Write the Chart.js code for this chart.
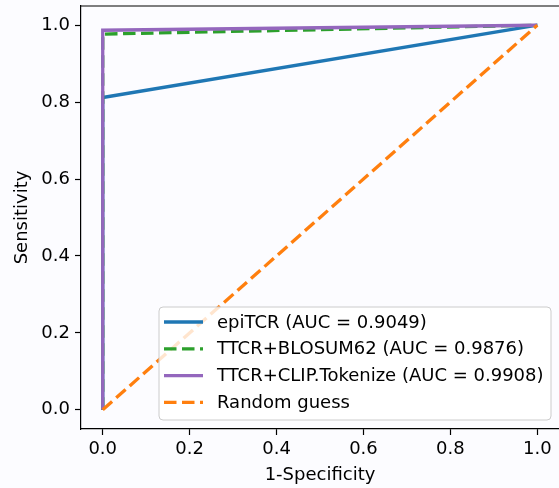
<!DOCTYPE html>
<html>
<head>
<meta charset="utf-8">
<script src="https://cdn.jsdelivr.net/npm/chart.js@4/dist/chart.umd.min.js"></script>
<style>
html,body{margin:0;padding:0;background:#fcfcff;}
#wrap{width:559px;height:488px;}
</style>
</head>
<body>
<div id="wrap"><canvas id="c" width="559" height="488"></canvas></div>
<script>
// ---- data ----
const seriesLabels = ["epiTCR (AUC = 0.9049)", "TTCR+BLOSUM62 (AUC = 0.9876)", "TTCR+CLIP.Tokenize (AUC = 0.9908)", "Random guess"];
const epiFpr = [0, 0, 1];
const epiTpr = [0, 0.812, 1];
const blosumFpr = [0, 0, 1];
const blosumTpr = [0, 0.977, 1];
const clipFpr = [0, 0, 1];
const clipTpr = [0, 0.987, 1];
const randFpr = [0, 1];
const randTpr = [0, 1];
const tickValues = [0, 0.2, 0.4, 0.6, 0.8, 1.0];

const FONT = "'DejaVu Sans', sans-serif";
const FS = 18;
const pts = (xs, ys) => xs.map((x, i) => ({x: x, y: ys[i]}));

const colors = ['#1f77b4', '#2ca02c', '#9467bd', '#ff7f0e'];
const dashes = [[], [12.5, 5.5], [], [12.5, 5.5]];

const datasets = [
  {label: seriesLabels[0], data: pts(epiFpr, epiTpr), order: 4},
  {label: seriesLabels[1], data: pts(blosumFpr, blosumTpr), order: 3},
  {label: seriesLabels[2], data: pts(clipFpr, clipTpr), order: 2},
  {label: seriesLabels[3], data: pts(randFpr, randTpr), order: 1}
].map((d, i) => Object.assign(d, {
  showLine: true, borderColor: colors[i], backgroundColor: colors[i],
  borderWidth: 3.3, borderDash: dashes[i], pointRadius: 0, pointHoverRadius: 0,
  tension: 0, borderCapStyle: 'butt'
}));

const bgPlugin = {
  id: 'bg',
  beforeDraw(chart) {
    const ctx = chart.ctx;
    ctx.save();
    ctx.fillStyle = '#fcfcff';
    ctx.fillRect(0, 0, chart.width, chart.height);
    ctx.restore();
  }
};

const framePlugin = {
  id: 'frame',
  afterDraw(chart) {
    const ctx = chart.ctx, a = chart.chartArea;
    ctx.save();
    ctx.strokeStyle = '#000';
    ctx.lineWidth = 1.2;
    ctx.beginPath();
    ctx.moveTo(a.left, a.top);
    ctx.lineTo(chart.width, a.top);
    ctx.stroke();

    // legend (lower right, inside the axes)
    const bx = 159, by = 307, bw = 392, bh = 113, r = 4;
    ctx.fillStyle = 'rgba(255,255,255,0.8)';
    ctx.strokeStyle = '#cccccc';
    ctx.lineWidth = 1;
    ctx.beginPath();
    ctx.moveTo(bx + r, by);
    ctx.lineTo(bx + bw - r, by);
    ctx.quadraticCurveTo(bx + bw, by, bx + bw, by + r);
    ctx.lineTo(bx + bw, by + bh - r);
    ctx.quadraticCurveTo(bx + bw, by + bh, bx + bw - r, by + bh);
    ctx.lineTo(bx + r, by + bh);
    ctx.quadraticCurveTo(bx, by + bh, bx, by + bh - r);
    ctx.lineTo(bx, by + r);
    ctx.quadraticCurveTo(bx, by, bx + r, by);
    ctx.closePath();
    ctx.fill();
    ctx.stroke();

    ctx.font = FS + 'px ' + FONT;
    ctx.textBaseline = 'middle';
    ctx.textAlign = 'left';
    chart.data.datasets.forEach((d, i) => {
      const y = 322 + i * 26.8;
      ctx.strokeStyle = d.borderColor;
      ctx.lineWidth = d.borderWidth;
      ctx.setLineDash(d.borderDash || []);
      ctx.lineCap = 'butt';
      ctx.beginPath();
      ctx.moveTo(164, y);
      ctx.lineTo(203, y);
      ctx.stroke();
      ctx.setLineDash([]);
      ctx.fillStyle = '#000';
      ctx.fillText(d.label, 217, y + 1);
    });
    ctx.restore();
  }
};

const setTicks = (axis) => { axis.ticks = tickValues.map(v => ({value: v})); };

new Chart(document.getElementById('c'), {
  type: 'scatter',
  data: {datasets: datasets},
  plugins: [bgPlugin, framePlugin],
  options: {
    responsive: false,
    animation: false,
    layout: {padding: {top: 6, right: 0, left: 0, bottom: 0}},
    plugins: {legend: {display: false}, tooltip: {enabled: false}},
    scales: {
      x: {
        type: 'linear', min: -0.05, max: 1.05,
        afterBuildTicks: setTicks,
        afterFit: (s) => { s.height = 59; s.paddingLeft = 0; s.paddingRight = 0; },
        grid: {drawOnChartArea: false, drawTicks: true, tickLength: 6, tickColor: '#000', tickWidth: 1.2},
        border: {display: true, color: '#000', width: 1.2},
        ticks: {color: '#000', font: {family: FONT, size: FS}, padding: 4, maxRotation: 0,
                callback: (v) => Number(v).toFixed(1)},
        title: {display: true, text: '1-Specificity', color: '#000', font: {family: FONT, size: FS},
                padding: {top: 0, bottom: 2}}
      },
      y: {
        type: 'linear', min: -0.05, max: 1.05,
        afterBuildTicks: setTicks,
        afterFit: (s) => { s.width = 81; s.paddingTop = 0; s.paddingBottom = 0; },
        grid: {drawOnChartArea: false, drawTicks: true, tickLength: 6, tickColor: '#000', tickWidth: 1.2},
        border: {display: true, color: '#000', width: 1.2},
        ticks: {color: '#000', font: {family: FONT, size: FS}, padding: 5,
                callback: (v) => Number(v).toFixed(1)},
        title: {display: true, text: 'Sensitivity', color: '#000', font: {family: FONT, size: FS},
                padding: {top: 12, bottom: 0}}
      }
    }
  }
});
</script>
</body>
</html>
